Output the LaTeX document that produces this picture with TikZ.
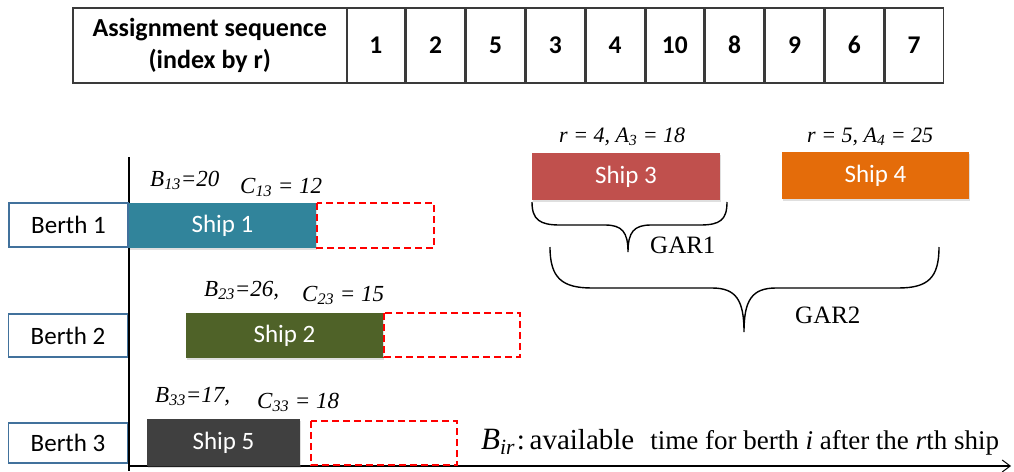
\documentclass[tikz,border=0pt]{standalone}
\usepackage{fontspec}
\setmainfont{Liberation Serif}
\newfontfamily\calib{Carlito}
\usetikzlibrary{arrows.meta,shadows}

\definecolor{tablegray}{HTML}{3A3A3A}
\definecolor{berthblue}{HTML}{41719C}
\definecolor{shipteal}{HTML}{31849B}
\definecolor{shipolive}{HTML}{4F6228}
\definecolor{shipdark}{HTML}{404040}
\definecolor{shipred}{HTML}{C0504D}
\definecolor{shiporange}{HTML}{E46C0A}
\definecolor{slotred}{HTML}{FF0000}

\newcommand{\px}[1]{\fontsize{#1}{#1}\selectfont}

\begin{document}
\begin{tikzpicture}[x=1pt,y=-1pt,
  cellbox/.style={draw=tablegray, line width=1.5pt, minimum height=75pt,
    inner sep=0pt, anchor=north west, font=\calib\bfseries\px{25.5}},
  numcell/.style={cellbox, minimum width=58.3pt},
  berthbox/.style={draw=berthblue, line width=1.6pt, fill=white, inner sep=0pt,
    minimum width=119pt, font=\calib\px{25}},
  shipbox/.style={inner sep=0pt, text=white, font=\calib\px{25},
    drop shadow={shadow xshift=1pt, shadow yshift=-1.5pt, opacity=0.25}},
  slotbox/.style={draw=slotred, line width=2.4pt, dash pattern=on 7pt off 4pt},
  lbl/.style={inner sep=0pt, anchor=base west, font=\itshape\px{23}},
  gar/.style={inner sep=0pt, anchor=base west, font=\px{25}},
  bracepath/.style={draw=black, line width=1.4pt},
]
\useasboundingbox (0,0) rectangle (1014,471);

% assignment sequence table
\node[cellbox, minimum width=274pt, align=center, font=\calib\bfseries\px{26}] (hdr) at (72,7)
  {Assignment sequence\\[6pt](index by r)};
\node[numcell] (s1) at (346,7) {1};
\node[numcell] (s2) at (s1.north east) {2};
\node[numcell] (s3) at (s2.north east) {5};
\node[numcell] (s4) at (s3.north east) {3};
\node[numcell] (s5) at (s4.north east) {4};
\node[numcell] (s6) at (s5.north east) {10};
\node[numcell] (s7) at (s6.north east) {8};
\node[numcell] (s8) at (s7.north east) {9};
\node[numcell] (s9) at (s8.north east) {6};
\node[numcell] (s10) at (s9.north east) {7};

% time axes
\coordinate (vtop) at (129,157);
\coordinate (origin) at (129,466);
\coordinate (vbot) at (129,471);
\coordinate (htip) at (1011,466);
\draw[line width=1.3pt] (vtop) -- (vbot);
\draw[line width=1.3pt, -{Straight Barb[length=8pt,width=12pt,line width=1pt]}] (origin) -- (htip);

% berths
\node[berthbox, minimum height=44pt] (b1) at (68.5,225) {Berth 1};
\node[berthbox, minimum height=43pt] (b2) at (68,335.5) {Berth 2};
\node[berthbox, minimum height=40pt] (b3) at (68,443) {Berth 3};

% assigned ships
\node[shipbox, fill=shipteal, minimum width=187pt, minimum height=45pt] (ship1) at (222.5,225.5) {Ship 1};
\node[shipbox, fill=shipolive, minimum width=197pt, minimum height=45pt] (ship2) at (284.5,335.5) {Ship 2};
\node[shipbox, fill=shipdark, minimum width=153pt, minimum height=47pt] (ship5) at (223.5,442.5) {Ship 5};

% free slots after each berth's last ship
\draw[slotbox] (317,203) rectangle (434,248);
\draw[slotbox] (384,313) rectangle (520,357);
\draw[slotbox] (311,421) rectangle (457,465);

% waiting ships
\node[shipbox, fill=shipred, minimum width=188pt, minimum height=47pt] (ship3) at (626,176.5) {Ship 3};
\node[shipbox, fill=shiporange, minimum width=187pt, minimum height=47pt] (ship4) at (875.5,175.5) {Ship 4};

% time labels
\node[lbl] (lb13) at (150,186) {B\textsubscript{13}=20};
\node[lbl] (lc13) at (240,193) {C\textsubscript{13} = 12};
\node[lbl] (lb23) at (204,296) {B\textsubscript{23}=26,};
\node[lbl] (lc23) at (302,301) {C\textsubscript{23} = 15};
\node[lbl] (lb33) at (155,402) {B\textsubscript{33}=17,};
\node[lbl] (lc33) at (257,408) {C\textsubscript{33} = 18};
\node[lbl, font=\itshape\px{22}] (la3) at (559,142) {r = 4, A\textsubscript{3} = 18};
\node[lbl, font=\itshape\px{22}] (la4) at (807,142) {r = 5, A\textsubscript{4} = 25};

% groups of arriving ships
\path[bracepath] (532,202) .. controls (532,220) and (540,225) .. (560,225)
  -- (605,225) .. controls (622,225) and (628,232) .. (628,252)
  .. controls (628,232) and (634,225) .. (651,225)
  -- (700,225) .. controls (720,225) and (727,220) .. (727,202);
\node[gar] (gar1) at (650,253) {GAR1};
\path[bracepath] (550,247) .. controls (550,278) and (562,288) .. (592,288)
  -- (712,288) .. controls (736,288) and (744,300) .. (744,332)
  .. controls (744,300) and (752,288) .. (776,288)
  -- (898,288) .. controls (928,288) and (939,278) .. (939,247);
\node[gar] (gar2) at (795,323) {GAR2};

% legend
\node[inner sep=0pt, anchor=base west] (legend) at (481,449)
  {{\px{31}\itshape B\textsubscript{ir}}\,{\px{29}:\,available}\hspace{16pt}{\px{27}time for berth \textit{i} after the \textit{r}th ship}};
\end{tikzpicture}
\end{document}
